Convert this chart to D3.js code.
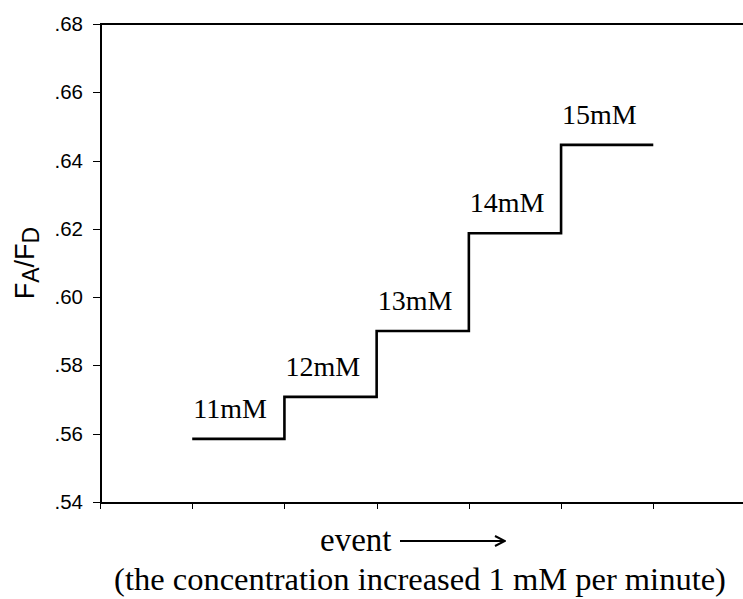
<!DOCTYPE html>
<html>
<head>
<meta charset="utf-8">
<title>FA/FD step chart</title>
<style>
    body { margin: 0; background: #fff; }
    svg { display: block; }
    .axis path, .axis line { stroke: #000; shape-rendering: crispEdges; }
    .axis path { stroke-width: 2; }
    .axis line { stroke-width: 1; }
    .axis text { font-family: Arial, "Liberation Sans", sans-serif; font-size: 20.5px; fill: #000; }
    .step-label, .x-title { font-family: "Times New Roman", "Liberation Serif", serif; fill: #000; }
</style>
</head>
<body>
<div class="chart-container"></div>
<script src="https://cdn.jsdelivr.net/npm/d3@7/dist/d3.min.js"></script>
<script>
    // data
    var stepLabels = ['11mM', '12mM', '13mM', '14mM', '15mM'];
    var stepStart = [1, 2, 3, 4, 5];          // category position where each level begins
    var stepValues = [0.5585, 0.5708, 0.5901, 0.6187, 0.6446];
    var yTicks = [0.54, 0.56, 0.58, 0.60, 0.62, 0.64, 0.66, 0.68];
    var xTicks = [0, 1, 2, 3, 4, 5, 6, 7];

    var width = 743, height = 599;
    var margin = {top: 24, left: 100, bottom: 97};
    var plotRight = 745.5;   // the frame runs just past the picture edge

    var x = d3.scaleLinear()
            .domain([0, 7])
            .range([margin.left, plotRight]);

    var y = d3.scaleLinear()
            .domain([0.54, 0.68])
            .range([height - margin.bottom, margin.top]);

    var svg = d3.select('.chart-container').append('svg')
            .attr('width', width)
            .attr('height', height);

    // top frame line
    svg.append('line')
            .attr('x1', x(0)).attr('x2', plotRight)
            .attr('y1', y(0.68)).attr('y2', y(0.68))
            .style('stroke', '#000')
            .style('stroke-width', 2)
            .style('shape-rendering', 'crispEdges');

    // x axis, no labels
    svg.append('g')
            .attr('class', 'axis x-axis')
            .attr('transform', 'translate(0,' + y(0.54) + ')')
            .call(d3.axisBottom(x)
                    .tickValues(xTicks)
                    .tickFormat('')
                    .tickSize(7)
                    .tickSizeOuter(0));

    // y axis
    var fmt = function (d) { return d3.format('.2f')(d).replace(/^0/, ''); };
    svg.append('g')
            .attr('class', 'axis y-axis')
            .attr('transform', 'translate(' + x(0) + ',0)')
            .call(d3.axisLeft(y)
                    .tickValues(yTicks)
                    .tickFormat(fmt)
                    .tickSize(7)
                    .tickSizeOuter(0)
                    .tickPadding(10));

    // step line built from the levels
    var pts = [];
    stepValues.forEach(function (v, i) {
        pts.push([stepStart[i], v]);
        pts.push([stepStart[i] + 1, v]);
    });

    var line = d3.line()
            .x(function (d) { return x(d[0]); })
            .y(function (d) { return y(d[1]); });

    svg.append('path')
            .attr('d', line(pts))
            .style('fill', 'none')
            .style('stroke', '#000')
            .style('stroke-width', 2.6)
            .style('stroke-linejoin', 'miter');

    svg.selectAll('.step-label')
            .data(stepValues)
            .enter().append('text')
            .attr('class', 'step-label')
            .attr('x', function (d, i) { return x(stepStart[i]) + 1; })
            .attr('y', function (d) { return y(d) - 21; })
            .style('font-size', '28px')
            .text(function (d, i) { return stepLabels[i]; });

    // y title F_A/F_D
    var yTitle = svg.append('text')
            .attr('transform', 'translate(34,' + ((y(0.54) + y(0.68)) / 2) + ') rotate(-90)')
            .attr('text-anchor', 'middle')
            .style('font-family', 'Arial, "Liberation Sans", sans-serif')
            .style('font-size', '27px');
    yTitle.append('tspan').text('F');
    yTitle.append('tspan').attr('dy', 5).style('font-size', '23px').text('A');
    yTitle.append('tspan').attr('dy', -5).text('/F');
    yTitle.append('tspan').attr('dy', 5).style('font-size', '23px').text('D');

    // x titles
    svg.append('text')
            .attr('class', 'x-title')
            .attr('x', 320)
            .attr('y', 551)
            .style('font-size', '33px')
            .text('event');

    svg.append('defs').append('marker')
            .attr('id', 'head')
            .attr('viewBox', '0 0 12 12')
            .attr('refX', 11).attr('refY', 6)
            .attr('markerWidth', 12).attr('markerHeight', 12)
            .attr('markerUnits', 'userSpaceOnUse')
            .attr('orient', 'auto')
            .append('path')
            .attr('d', 'M1,1 L11,6 L1,11')
            .style('fill', 'none')
            .style('stroke', '#000')
            .style('stroke-width', 2);

    svg.append('line')
            .attr('x1', 400).attr('x2', 505)
            .attr('y1', 541).attr('y2', 541)
            .style('stroke', '#000')
            .style('stroke-width', 2)
            .attr('marker-end', 'url(#head)');

    svg.append('text')
            .attr('class', 'x-title')
            .attr('x', 420)
            .attr('y', 590)
            .attr('text-anchor', 'middle')
            .style('font-size', '32.5px')
            .text('(the concentration increased 1 mM per minute)');
</script>
</body>
</html>
